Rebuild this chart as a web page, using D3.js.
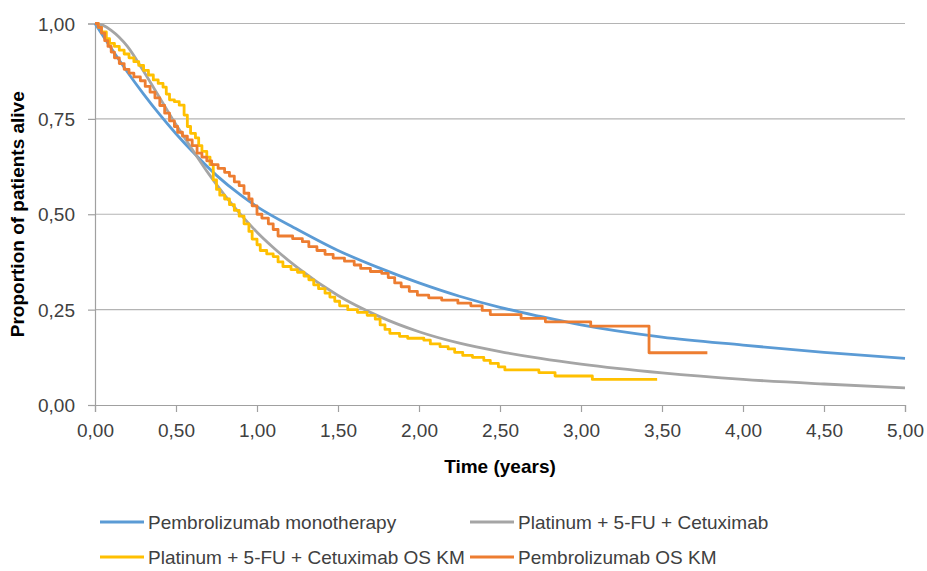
<!DOCTYPE html>
<html>
<head>
<meta charset="utf-8">
<script src="https://cdn.jsdelivr.net/npm/d3@7"></script>
<style>
  body { margin: 0; background: #fff; }
  svg { display: block; font-family: "Liberation Sans", Arial, sans-serif; }
</style>
</head>
<body>
<svg id="chart" width="927" height="571"></svg>
<script>
/**
 * Chart data
 */
var seriesNames = ["Pembrolizumab monotherapy", "Platinum + 5-FU + Cetuximab",
    "Platinum + 5-FU + Cetuximab OS KM", "Pembrolizumab OS KM"];
var xTicks = [0, 0.5, 1, 1.5, 2, 2.5, 3, 3.5, 4, 4.5, 5];
var yTicks = [0, 0.25, 0.5, 0.75, 1];

// fitted curves: [time, proportion]
var pembroFit = [[0,1],[0.1,0.935],[0.2,0.873],[0.3,0.815],[0.4,0.761],[0.5,0.711],
    [0.6,0.665],[0.75,0.602],[0.9,0.55],[1.0,0.52],[1.25,0.46],[1.5,0.405],[1.75,0.36],
    [2.0,0.32],[2.25,0.285],[2.5,0.256],[2.75,0.232],[3.0,0.21],[3.5,0.178],[4.0,0.157],
    [4.5,0.138],[5.0,0.122]];
var platFit = [[0,1],[0.05,0.995],[0.1,0.982],[0.2,0.94],[0.3,0.875],[0.4,0.805],
    [0.5,0.735],[0.6,0.67],[0.7,0.607],[0.8,0.55],[0.9,0.499],[1.0,0.453],[1.1,0.413],
    [1.25,0.36],[1.5,0.287],[1.75,0.233],[2.0,0.192],[2.25,0.162],[2.5,0.14],
    [2.75,0.122],[3.0,0.107],[3.5,0.084],[4.0,0.067],[4.5,0.055],[5.0,0.045]];

// Kaplan-Meier steps: [time of drop, proportion after]
var platKm = [[0,1],[0.02,0.99],[0.04,0.978],[0.07,0.96],[0.09,0.948],[0.12,0.94],
    [0.15,0.93],[0.18,0.92],[0.21,0.91],[0.24,0.9],[0.27,0.89],[0.3,0.877],[0.33,0.865],
    [0.36,0.852],[0.39,0.843],[0.42,0.833],[0.44,0.815],[0.46,0.8],[0.49,0.795],
    [0.52,0.786],[0.55,0.76],[0.57,0.73],[0.59,0.712],[0.62,0.7],[0.64,0.68],
    [0.66,0.665],[0.69,0.65],[0.71,0.63],[0.73,0.59],[0.75,0.565],[0.77,0.55],
    [0.8,0.54],[0.83,0.525],[0.86,0.51],[0.89,0.495],[0.92,0.475],[0.95,0.455],
    [0.97,0.435],[1.0,0.42],[1.02,0.405],[1.06,0.396],[1.1,0.389],[1.13,0.375],
    [1.16,0.363],[1.21,0.355],[1.25,0.348],[1.29,0.338],[1.32,0.328],[1.35,0.315],
    [1.38,0.305],[1.42,0.293],[1.45,0.283],[1.48,0.272],[1.51,0.26],[1.56,0.25],
    [1.62,0.243],[1.68,0.235],[1.73,0.225],[1.76,0.21],[1.79,0.198],[1.82,0.188],
    [1.88,0.18],[1.93,0.175],[2.03,0.17],[2.07,0.16],[2.13,0.153],[2.18,0.147],
    [2.22,0.138],[2.27,0.13],[2.33,0.125],[2.4,0.117],[2.44,0.109],[2.49,0.1],
    [2.53,0.092],[2.74,0.085],[2.84,0.076],[3.07,0.067],[3.47,0.067]];
var pembroKm = [[0,1],[0.02,0.99],[0.04,0.975],[0.06,0.955],[0.08,0.94],[0.1,0.925],
    [0.12,0.91],[0.15,0.895],[0.18,0.88],[0.21,0.87],[0.24,0.86],[0.28,0.85],
    [0.31,0.835],[0.34,0.82],[0.37,0.805],[0.4,0.785],[0.43,0.765],[0.46,0.745],
    [0.49,0.73],[0.51,0.715],[0.54,0.705],[0.57,0.695],[0.6,0.68],[0.63,0.66],
    [0.66,0.65],[0.69,0.64],[0.72,0.63],[0.76,0.62],[0.8,0.61],[0.83,0.6],
    [0.86,0.585],[0.89,0.575],[0.92,0.555],[0.95,0.54],[0.97,0.522],[1.0,0.5],
    [1.03,0.49],[1.07,0.475],[1.1,0.46],[1.13,0.443],[1.22,0.436],[1.28,0.428],
    [1.32,0.415],[1.37,0.405],[1.42,0.395],[1.47,0.385],[1.54,0.377],[1.6,0.367],
    [1.64,0.358],[1.7,0.35],[1.77,0.345],[1.81,0.334],[1.85,0.32],[1.89,0.31],
    [1.94,0.298],[1.99,0.288],[2.06,0.281],[2.14,0.275],[2.24,0.267],[2.32,0.26],
    [2.39,0.248],[2.44,0.237],[2.63,0.227],[2.78,0.218],[3.06,0.207],[3.42,0.137],
    [3.78,0.137]];

var colors = ["#5b9bd5", "#a5a5a5", "#ffc000", "#ed7d31"];

window.onload = function(){
    drawChart();
};

function drawChart(){
    let svg = d3.select("#chart");
    let left = 95, right = 905, top = 23.5, bottom = 405;

    let xScale = d3.scaleLinear().domain([0, 5]).range([left, right]);
    let yScale = d3.scaleLinear().domain([0, 1]).range([bottom, top]);
    let fmt = function(d){ return d3.format(".2f")(d).replace(".", ","); };

    // horizontal gridlines
    svg.append("g")
        .selectAll("line")
        .data(yTicks.filter(function(d){ return d > 0; }))
        .enter()
        .append("line")
        .attr("x1", left).attr("x2", right)
        .attr("y1", function(d){ return yScale(d); })
        .attr("y2", function(d){ return yScale(d); })
        .style("stroke", "#b4b4b4")
        .style("stroke-width", 1.2);

    // axes
    let xAxis = svg.append("g")
        .attr("transform", `translate(0,${bottom})`)
        .call(d3.axisBottom(xScale).tickValues(xTicks).tickFormat(fmt).tickSize(7).tickPadding(12));
    let yAxis = svg.append("g")
        .attr("transform", `translate(${left},0)`)
        .call(d3.axisLeft(yScale).tickValues(yTicks).tickFormat(fmt).tickSize(7).tickPadding(13));
    [xAxis, yAxis].forEach(function(ax){
        ax.select(".domain").style("stroke", "#a0a0a0").style("stroke-width", 1.2);
        ax.selectAll(".tick line").style("stroke", "#a0a0a0").style("stroke-width", 1.2);
        ax.selectAll(".tick text")
            .style("font-family", "'Liberation Sans', Arial, sans-serif")
            .style("font-size", "19px")
            .style("fill", "#404040");
    });
    yAxis.selectAll(".tick text").attr("dy", "0.35em");

    // axis titles
    svg.append("text")
        .attr("x", (left + right) / 2)
        .attr("y", 473)
        .attr("text-anchor", "middle")
        .style("font-size", "19px")
        .style("font-weight", "bold")
        .style("fill", "#000")
        .text("Time (years)");
    svg.append("text")
        .attr("transform", `translate(24,${(top + bottom) / 2}) rotate(-90)`)
        .attr("text-anchor", "middle")
        .style("font-size", "19px")
        .style("font-weight", "bold")
        .style("fill", "#000")
        .text("Proportion of patients alive");

    // series
    let smooth = d3.line()
        .x(function(d){ return xScale(d[0]); })
        .y(function(d){ return yScale(d[1]); })
        .curve(d3.curveMonotoneX);
    let steps = d3.line()
        .x(function(d){ return xScale(d[0]); })
        .y(function(d){ return yScale(d[1]); })
        .curve(d3.curveStepAfter);

    let series = [
        {data: pembroFit, line: smooth},
        {data: platFit, line: smooth},
        {data: platKm, line: steps},
        {data: pembroKm, line: steps}
    ];
    series.forEach(function(s, i){
        svg.append("path")
            .datum(s.data)
            .attr("d", s.line)
            .style("fill", "none")
            .style("stroke", colors[i])
            .style("stroke-width", 2.8)
            .style("stroke-linejoin", "round");
    });

    // legend
    let legendX = [100, 470];
    let legendY = [522, 557];
    let legend = svg.append("g")
        .selectAll("g")
        .data(seriesNames)
        .enter()
        .append("g")
        .attr("transform", function(d, i){
            return `translate(${legendX[i % 2]},${legendY[Math.floor(i / 2)]})`;
        });
    legend.append("line")
        .attr("x1", 0).attr("x2", 44)
        .attr("y1", 0).attr("y2", 0)
        .style("stroke", function(d, i){ return colors[i]; })
        .style("stroke-width", 3);
    legend.append("text")
        .attr("x", 48)
        .attr("dy", "0.35em")
        .style("font-size", "19px")
        .style("fill", "#404040")
        .text(function(d){ return d; });
}
</script>
</body>
</html>
